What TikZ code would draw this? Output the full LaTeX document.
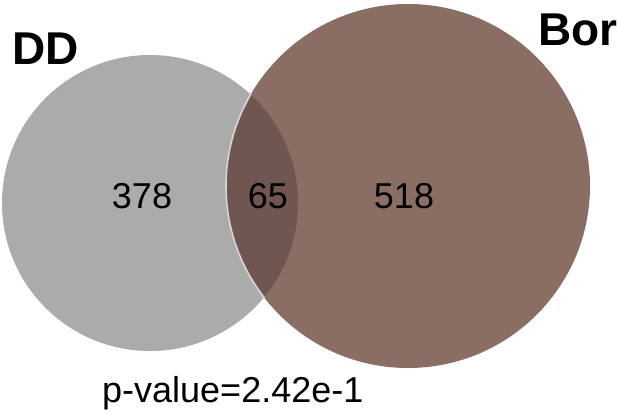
\documentclass[tikz,border=0pt]{standalone}
\usepackage{fontspec}
\setmainfont{Liberation Sans}
\definecolor{ddgray}{HTML}{ABABAB}
\definecolor{borbrown}{HTML}{8A6D63}
\definecolor{overlap}{HTML}{6F5650}
\definecolor{rimcol}{HTML}{D6D6D6}
\begin{document}
\begin{tikzpicture}[x=1pt,y=-1pt,
  num/.style={font=\fontsize{36}{36}\selectfont, anchor=base, inner sep=0pt},
  setlabel/.style={font=\fontsize{46}{46}\selectfont\bfseries, inner sep=0pt}]
\useasboundingbox (0,0) rectangle (617,413);
\fill[ddgray] (150,203) circle[radius=148];
\fill[borbrown] (408,186) circle[radius=182];
\begin{scope}
  \clip (150,203) circle[radius=148];
  \fill[overlap] (408,186) circle[radius=182];
\end{scope}
\begin{scope}
  \clip (150,203) circle[radius=149];
  \draw[rimcol, line width=1.6pt] (408,186) circle[radius=182];
\end{scope}
\node[setlabel, anchor=base west] (dd) at (12,64) {DD};
\node[setlabel, anchor=base east] (bor) at (618,45) {Bor};
\node[num] (a) at (142,208) {378};
\node[num] (ab) at (268,208) {65};
\node[num] (b) at (404,208) {518};
\node[num, anchor=base west] (p) at (102,402) {p-value=2.42e-1};
\end{tikzpicture}
\end{document}
